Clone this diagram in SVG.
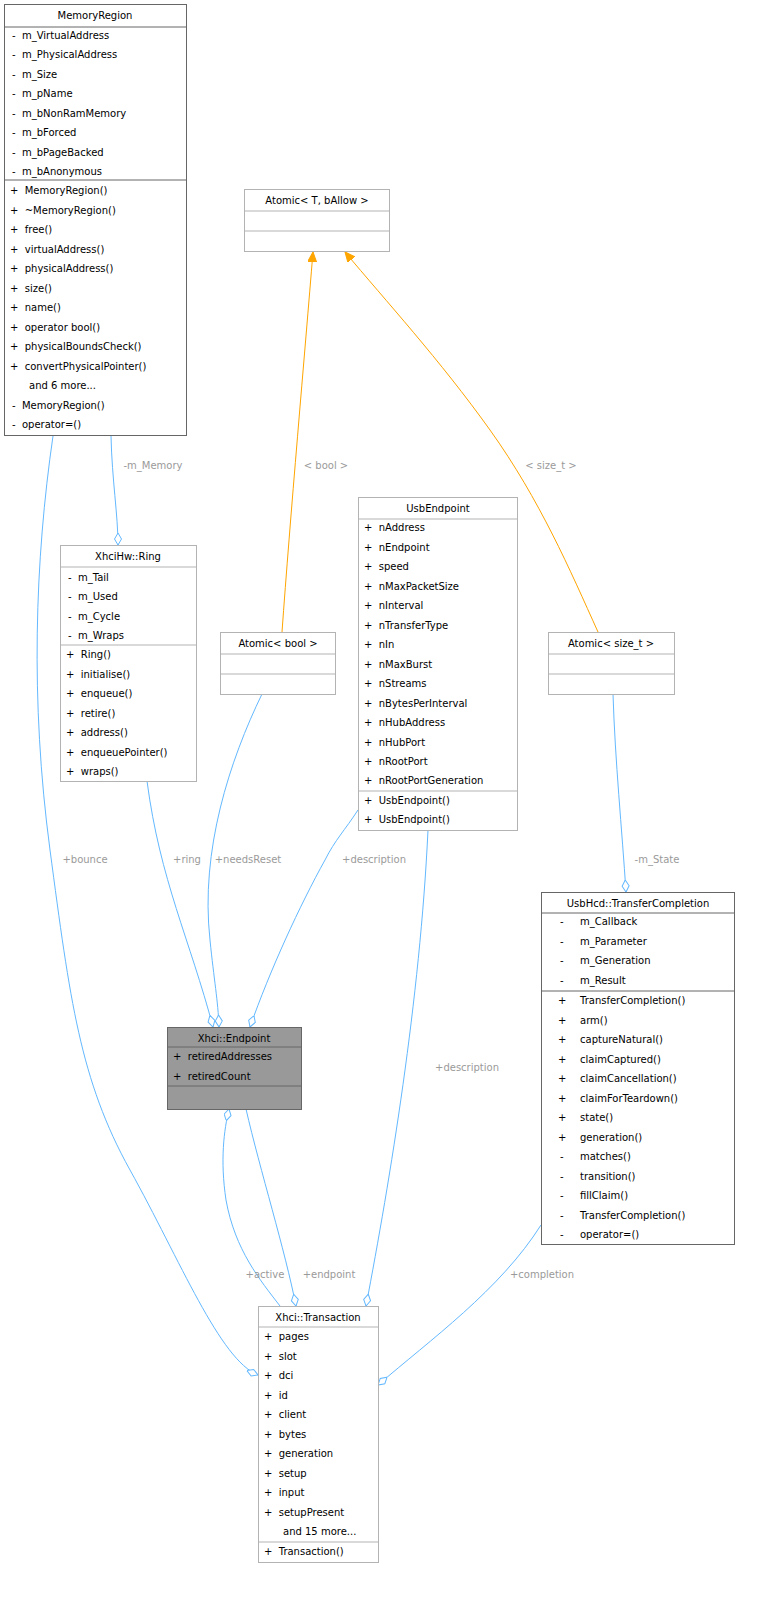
<svg xmlns="http://www.w3.org/2000/svg" width="764" height="1620" viewBox="0 0 764 1620">
<style>
text{font-family:"DejaVu Sans",sans-serif;font-size:10px;fill:#000;white-space:pre}
.c{text-anchor:middle}
.l{fill:#9a9a9a;text-anchor:middle}
.b{fill:#fff;stroke:#666}
.g{fill:#fff;stroke:#b3b3b3}
.e{fill:none;stroke:#63b8ff;stroke-width:1}
.o{fill:none;stroke:#ffa500;stroke-width:1}
</style>
<defs>
<marker id="d" markerWidth="14" markerHeight="10" refX="12" refY="4" orient="auto" markerUnits="userSpaceOnUse"><path d="M0,4 L6,0.5 L12,4 L6,7.5 z" fill="#fff" stroke="#63b8ff"/></marker>
<marker id="a" markerWidth="12" markerHeight="10" refX="10" refY="4.5" orient="auto" markerUnits="userSpaceOnUse"><path d="M0,0 L10,4.5 L0,9 z" fill="#ffa500" stroke="#ffa500"/></marker>
</defs>
<g id="connectors">
<path class="e" d="M111,436 C112,480 118,515 118,545" marker-end="url(#d)"/>
<text class="l" x="153" y="469">-m_Memory</text>
<path class="e" d="M53,436 C35,560 30,700 50,850 C70,1000 80,1080 130,1170 C180,1260 220,1360 258,1375" marker-end="url(#d)"/>
<text class="l" x="85" y="863">+bounce</text>
<path class="e" d="M147,781 C160,880 190,940 213,1027" marker-end="url(#d)"/>
<text class="l" x="187" y="863">+ring</text>
<path class="e" d="M262,694 C230,760 200,850 210,940 C214,980 218,1000 219,1027" marker-end="url(#d)"/>
<text class="l" x="248" y="863">+needsReset</text>
<path class="e" d="M358,810 C345,830 335,840 325,860 C300,905 270,970 250,1027" marker-end="url(#d)"/>
<text class="l" x="374" y="863">+description</text>
<path class="e" d="M428,830 C420,1000 390,1180 366,1306" marker-end="url(#d)"/>
<text class="l" x="467" y="1071">+description</text>
<path class="e" d="M613,694 C615,760 622,830 626,892" marker-end="url(#d)"/>
<text class="l" x="657" y="863">-m_State</text>
<path class="e" d="M541,1225 C500,1290 430,1340 378,1385" marker-end="url(#d)"/>
<text class="l" x="542" y="1278">+completion</text>
<path class="e" d="M280,1306 C260,1280 235,1250 226,1200 C220,1160 224,1130 229,1109" marker-end="url(#d)"/>
<text class="l" x="265" y="1278">+active</text>
<path class="e" d="M246,1109 C260,1170 285,1250 296,1306" marker-end="url(#d)"/>
<text class="l" x="329" y="1278">+endpoint</text>
<path class="o" d="M282,632 C290,520 305,350 313,252" marker-end="url(#a)"/>
<text class="l" x="326" y="469">&lt; bool &gt;</text>
<path class="o" d="M598,632 C570,570 540,500 490,430 C440,360 385,300 345,252" marker-end="url(#a)"/>
<text class="l" x="551" y="469">&lt; size_t &gt;</text>
</g>
<g id="MemoryRegion">
<rect class="b" x="4.5" y="4.5" width="182" height="431"/>
<line x1="4.5" y1="27" x2="186.5" y2="27" stroke="#666"/>
<line x1="4.5" y1="180" x2="186.5" y2="180" stroke="#666"/>
<text class="c" x="95" y="19">MemoryRegion</text>
<text x="12" y="39">-  m_VirtualAddress</text>
<text x="12" y="58">-  m_PhysicalAddress</text>
<text x="12" y="78">-  m_Size</text>
<text x="12" y="97">-  m_pName</text>
<text x="12" y="117">-  m_bNonRamMemory</text>
<text x="12" y="136">-  m_bForced</text>
<text x="12" y="156">-  m_bPageBacked</text>
<text x="12" y="175">-  m_bAnonymous</text>
<text x="10" y="194">+  MemoryRegion()</text>
<text x="10" y="214">+  ~MemoryRegion()</text>
<text x="10" y="233">+  free()</text>
<text x="10" y="253">+  virtualAddress()</text>
<text x="10" y="272">+  physicalAddress()</text>
<text x="10" y="292">+  size()</text>
<text x="10" y="311">+  name()</text>
<text x="10" y="331">+  operator bool()</text>
<text x="10" y="350">+  physicalBoundsCheck()</text>
<text x="10" y="370">+  convertPhysicalPointer()</text>
<text x="29" y="389">and 6 more...</text>
<text x="12" y="409">-  MemoryRegion()</text>
<text x="12" y="428">-  operator=()</text>
</g>
<g id="AtomicT">
<rect class="g" x="244.5" y="189.5" width="145" height="62"/>
<line x1="244.5" y1="211" x2="389.5" y2="211" stroke="#b3b3b3"/>
<line x1="244.5" y1="231" x2="389.5" y2="231" stroke="#b3b3b3"/>
<text class="c" x="317" y="204">Atomic&lt; T, bAllow &gt;</text>
</g>
<g id="UsbEndpoint">
<rect class="g" x="358.5" y="497.5" width="159" height="333"/>
<line x1="358.5" y1="519" x2="517.5" y2="519" stroke="#b3b3b3"/>
<line x1="358.5" y1="791" x2="517.5" y2="791" stroke="#b3b3b3"/>
<text class="c" x="438" y="512">UsbEndpoint</text>
<text x="364" y="531">+  nAddress</text>
<text x="364" y="551">+  nEndpoint</text>
<text x="364" y="570">+  speed</text>
<text x="364" y="590">+  nMaxPacketSize</text>
<text x="364" y="609">+  nInterval</text>
<text x="364" y="629">+  nTransferType</text>
<text x="364" y="648">+  nIn</text>
<text x="364" y="668">+  nMaxBurst</text>
<text x="364" y="687">+  nStreams</text>
<text x="364" y="707">+  nBytesPerInterval</text>
<text x="364" y="726">+  nHubAddress</text>
<text x="364" y="746">+  nHubPort</text>
<text x="364" y="765">+  nRootPort</text>
<text x="364" y="784">+  nRootPortGeneration</text>
<text x="364" y="804">+  UsbEndpoint()</text>
<text x="364" y="823">+  UsbEndpoint()</text>
</g>
<g id="Ring">
<rect class="g" x="60.5" y="545.5" width="136" height="236"/>
<line x1="60.5" y1="567" x2="196.5" y2="567" stroke="#b3b3b3"/>
<line x1="60.5" y1="645" x2="196.5" y2="645" stroke="#b3b3b3"/>
<text class="c" x="128" y="560">XhciHw::Ring</text>
<text x="68" y="581">-  m_Tail</text>
<text x="68" y="600">-  m_Used</text>
<text x="68" y="620">-  m_Cycle</text>
<text x="68" y="639">-  m_Wraps</text>
<text x="66" y="658">+  Ring()</text>
<text x="66" y="678">+  initialise()</text>
<text x="66" y="697">+  enqueue()</text>
<text x="66" y="717">+  retire()</text>
<text x="66" y="736">+  address()</text>
<text x="66" y="756">+  enqueuePointer()</text>
<text x="66" y="775">+  wraps()</text>
</g>
<g id="AtomicBool">
<rect class="g" x="220.5" y="632.5" width="115" height="62"/>
<line x1="220.5" y1="654" x2="335.5" y2="654" stroke="#b3b3b3"/>
<line x1="220.5" y1="674" x2="335.5" y2="674" stroke="#b3b3b3"/>
<text class="c" x="278" y="647">Atomic&lt; bool &gt;</text>
</g>
<g id="AtomicSizeT">
<rect class="g" x="548.5" y="632.5" width="126" height="62"/>
<line x1="548.5" y1="654" x2="674.5" y2="654" stroke="#b3b3b3"/>
<line x1="548.5" y1="674" x2="674.5" y2="674" stroke="#b3b3b3"/>
<text class="c" x="611" y="647">Atomic&lt; size_t &gt;</text>
</g>
<g id="TransferCompletion">
<rect class="b" x="541.5" y="892.5" width="193" height="352"/>
<line x1="541.5" y1="913" x2="734.5" y2="913" stroke="#666"/>
<line x1="541.5" y1="991" x2="734.5" y2="991" stroke="#666"/>
<text class="c" x="638" y="907">UsbHcd::TransferCompletion</text>
<text x="560" y="925">-</text><text x="580" y="925">m_Callback</text>
<text x="560" y="945">-</text><text x="580" y="945">m_Parameter</text>
<text x="560" y="964">-</text><text x="580" y="964">m_Generation</text>
<text x="560" y="984">-</text><text x="580" y="984">m_Result</text>
<text x="558" y="1004">+</text><text x="580" y="1004">TransferCompletion()</text>
<text x="558" y="1024">+</text><text x="580" y="1024">arm()</text>
<text x="558" y="1043">+</text><text x="580" y="1043">captureNatural()</text>
<text x="558" y="1063">+</text><text x="580" y="1063">claimCaptured()</text>
<text x="558" y="1082">+</text><text x="580" y="1082">claimCancellation()</text>
<text x="558" y="1102">+</text><text x="580" y="1102">claimForTeardown()</text>
<text x="558" y="1121">+</text><text x="580" y="1121">state()</text>
<text x="558" y="1141">+</text><text x="580" y="1141">generation()</text>
<text x="560" y="1160">-</text><text x="580" y="1160">matches()</text>
<text x="560" y="1180">-</text><text x="580" y="1180">transition()</text>
<text x="560" y="1199">-</text><text x="580" y="1199">fillClaim()</text>
<text x="560" y="1219">-</text><text x="580" y="1219">TransferCompletion()</text>
<text x="560" y="1238">-</text><text x="580" y="1238">operator=()</text>
</g>
<g id="Endpoint">
<rect x="167.5" y="1027.5" width="134" height="82" fill="#999" stroke="#666"/>
<line x1="167.5" y1="1047" x2="301.5" y2="1047" stroke="#666"/>
<line x1="167.5" y1="1086" x2="301.5" y2="1086" stroke="#666"/>
<text class="c" x="234" y="1042">Xhci::Endpoint</text>
<text x="173" y="1060">+  retiredAddresses</text>
<text x="173" y="1080">+  retiredCount</text>
</g>
<g id="Transaction">
<rect class="g" x="258.5" y="1306.5" width="120" height="256"/>
<line x1="258.5" y1="1327" x2="378.5" y2="1327" stroke="#b3b3b3"/>
<line x1="258.5" y1="1542" x2="378.5" y2="1542" stroke="#b3b3b3"/>
<text class="c" x="318" y="1321">Xhci::Transaction</text>
<text x="264" y="1340">+  pages</text>
<text x="264" y="1360">+  slot</text>
<text x="264" y="1379">+  dci</text>
<text x="264" y="1399">+  id</text>
<text x="264" y="1418">+  client</text>
<text x="264" y="1438">+  bytes</text>
<text x="264" y="1457">+  generation</text>
<text x="264" y="1477">+  setup</text>
<text x="264" y="1496">+  input</text>
<text x="264" y="1516">+  setupPresent</text>
<text x="283" y="1535">and 15 more...</text>
<text x="264" y="1555">+  Transaction()</text>
</g>
</svg>
